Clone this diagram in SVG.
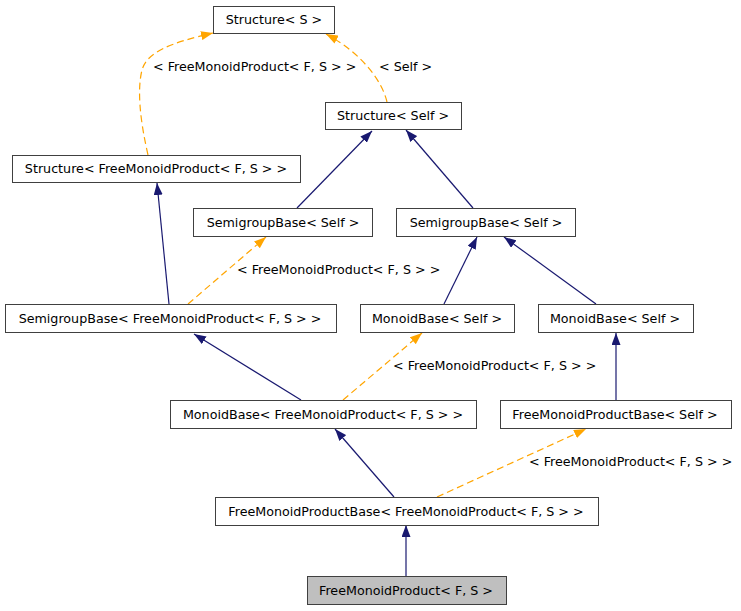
<svg xmlns="http://www.w3.org/2000/svg" width="741" height="611" viewBox="0 0 741 611">
<style>
.box{fill:#ffffff;stroke:#404040;stroke-width:1}
.hl{fill:#bfbfbf;stroke:#404040;stroke-width:1}
text{font-family:"DejaVu Sans",sans-serif;font-size:12.7px;fill:#000}
.c{text-anchor:middle}
.inh{fill:none;stroke:#191970;stroke-width:1.2}
.tpl{fill:none;stroke:#ffa500;stroke-width:1.2;stroke-dasharray:7,4}
</style>
<defs>
<marker id="an" viewBox="0 0 12 9" refX="12" refY="4.5" markerWidth="12" markerHeight="9" markerUnits="userSpaceOnUse" orient="auto">
<path d="M0,0 L12,4.5 L0,9 z" fill="#191970" stroke="none"/>
</marker>
<marker id="ao" viewBox="0 0 12 9" refX="12" refY="4.5" markerWidth="12" markerHeight="9" markerUnits="userSpaceOnUse" orient="auto">
<path d="M0,0 L12,4.5 L0,9 z" fill="#ffa500" stroke="none"/>
</marker>
</defs>
<rect width="741" height="611" fill="#ffffff"/>
<g id="edges">
<path class="tpl" d="M387,102 C382,80 360,52 326,34" marker-end="url(#ao)"/>
<path class="tpl" d="M148,155 C140,120 137,90 142,70 C147,52 170,43 213,33" marker-end="url(#ao)"/>
<path class="inh" d="M297,208 L372,131" marker-end="url(#an)"/>
<path class="inh" d="M473,208 L406,130" marker-end="url(#an)"/>
<path class="inh" d="M169,304 L157,183" marker-end="url(#an)"/>
<path class="tpl" d="M188,304 L266,237" marker-end="url(#ao)"/>
<path class="inh" d="M444,304 L477,237" marker-end="url(#an)"/>
<path class="inh" d="M596,304 L504,237" marker-end="url(#an)"/>
<path class="inh" d="M301,400 L194,334" marker-end="url(#an)"/>
<path class="tpl" d="M343,400 L422,333" marker-end="url(#ao)"/>
<path class="inh" d="M616,400 L616,333" marker-end="url(#an)"/>
<path class="inh" d="M394,497 L335,429" marker-end="url(#an)"/>
<path class="tpl" d="M437,497 L586,429" marker-end="url(#ao)"/>
<path class="inh" d="M406,576 L406,525" marker-end="url(#an)"/>
<text x="153" y="71">&lt; FreeMonoidProduct&lt; F, S &gt; &gt;</text>
<text x="379" y="71">&lt; Self &gt;</text>
<text x="237" y="274">&lt; FreeMonoidProduct&lt; F, S &gt; &gt;</text>
<text x="393" y="370">&lt; FreeMonoidProduct&lt; F, S &gt; &gt;</text>
<text x="529" y="466">&lt; FreeMonoidProduct&lt; F, S &gt; &gt;</text>
</g>
<g id="n_structure_S"><rect class="box" x="213.5" y="6.5" width="121" height="27"/><text class="c" x="274" y="24">Structure&lt; S &gt;</text></g>
<g id="n_structure_self"><rect class="box" x="325.5" y="102.5" width="136" height="27"/><text class="c" x="393" y="120">Structure&lt; Self &gt;</text></g>
<g id="n_structure_fmp"><rect class="box" x="12.5" y="155.5" width="288" height="27"/><text class="c" x="156" y="173">Structure&lt; FreeMonoidProduct&lt; F, S &gt; &gt;</text></g>
<g id="n_semigroup_self_l"><rect class="box" x="193.5" y="208.5" width="179" height="28"/><text class="c" x="283" y="227">SemigroupBase&lt; Self &gt;</text></g>
<g id="n_semigroup_self_r"><rect class="box" x="396.5" y="208.5" width="179" height="28"/><text class="c" x="486" y="227">SemigroupBase&lt; Self &gt;</text></g>
<g id="n_semigroup_fmp"><rect class="box" x="5.5" y="304.5" width="331" height="28"/><text class="c" x="170" y="323">SemigroupBase&lt; FreeMonoidProduct&lt; F, S &gt; &gt;</text></g>
<g id="n_monoid_self_l"><rect class="box" x="360.5" y="304.5" width="154" height="28"/><text class="c" x="437" y="323">MonoidBase&lt; Self &gt;</text></g>
<g id="n_monoid_self_r"><rect class="box" x="538.5" y="304.5" width="155" height="28"/><text class="c" x="615" y="323">MonoidBase&lt; Self &gt;</text></g>
<g id="n_monoid_fmp"><rect class="box" x="170.5" y="400.5" width="306" height="28"/><text class="c" x="323" y="419">MonoidBase&lt; FreeMonoidProduct&lt; F, S &gt; &gt;</text></g>
<g id="n_fmpbase_self"><rect class="box" x="500.5" y="400.5" width="231" height="28"/><text class="c" x="615" y="419">FreeMonoidProductBase&lt; Self &gt;</text></g>
<g id="n_fmpbase_fmp"><rect class="box" x="215.5" y="497.5" width="383" height="28"/><text class="c" x="406" y="516">FreeMonoidProductBase&lt; FreeMonoidProduct&lt; F, S &gt; &gt;</text></g>
<g id="n_fmp"><rect class="hl" x="307.5" y="576.5" width="199" height="28"/><text class="c" x="406" y="595">FreeMonoidProduct&lt; F, S &gt;</text></g>
</svg>
